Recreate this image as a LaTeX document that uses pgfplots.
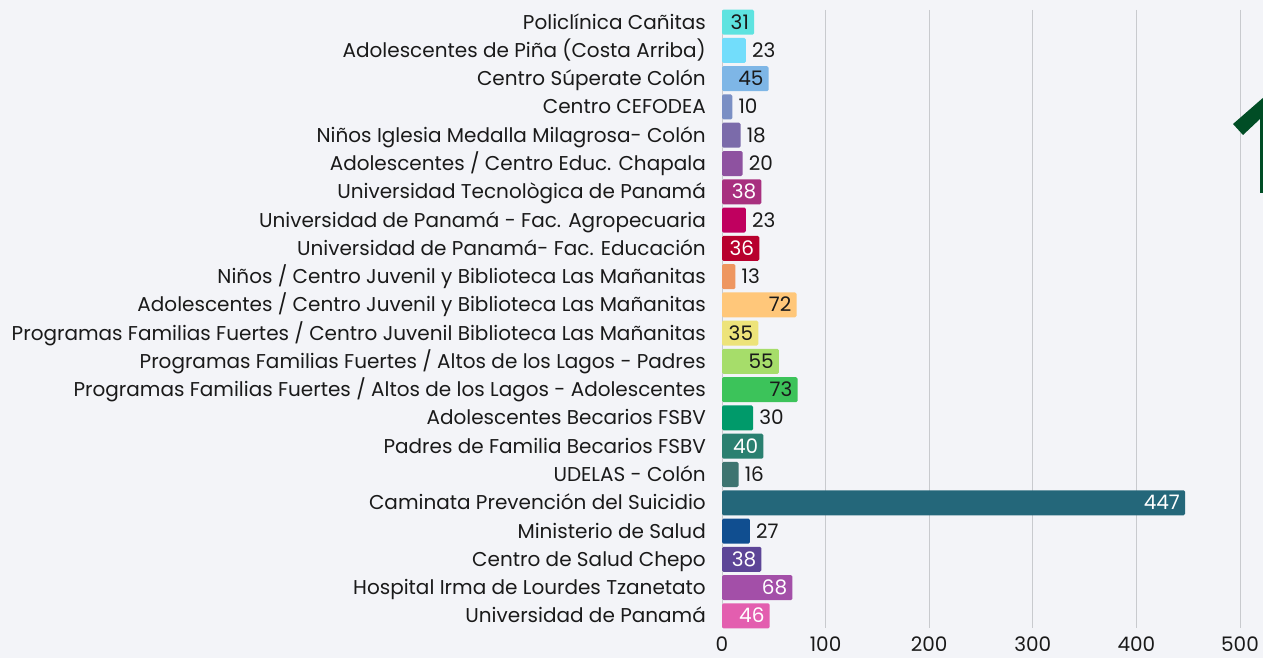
\documentclass[border=0pt]{standalone}
\usepackage{fontspec}
\setmainfont{Poppins}
\usepackage{pgfplots}
\pgfplotsset{compat=1.18}
\definecolor{bg}{HTML}{F3F4F8}
\definecolor{txt}{HTML}{1A1A1A}
\definecolor{grd}{HTML}{C8CACE}
\definecolor{c1}{HTML}{5EE3E0}
\definecolor{c2}{HTML}{72DDFB}
\definecolor{c3}{HTML}{7EB6E6}
\definecolor{c4}{HTML}{7A8FC4}
\definecolor{c5}{HTML}{7B6BAA}
\definecolor{c6}{HTML}{8E52A0}
\definecolor{c7}{HTML}{A8307F}
\definecolor{c8}{HTML}{C0005F}
\definecolor{c9}{HTML}{B8002E}
\definecolor{c10}{HTML}{EE9660}
\definecolor{c11}{HTML}{FFC77A}
\definecolor{c12}{HTML}{EDE37A}
\definecolor{c13}{HTML}{A6DD6A}
\definecolor{c14}{HTML}{3CC35A}
\definecolor{c15}{HTML}{009A6A}
\definecolor{c16}{HTML}{2A8070}
\definecolor{c17}{HTML}{3E7470}
\definecolor{c18}{HTML}{24677A}
\definecolor{c19}{HTML}{104E90}
\definecolor{c20}{HTML}{5D4597}
\definecolor{c21}{HTML}{A34FA8}
\definecolor{c22}{HTML}{E35EAF}
\definecolor{dgreen}{HTML}{004D25}
\pgfplotsset{
  inD/.style={fill=#1, draw=none, rounded corners=1.5pt, nodes near coords, every node near coord/.append style={anchor=base east, inner sep=0pt, xshift=-5pt, yshift=-7pt, text=txt}},
  inW/.style={fill=#1, draw=none, rounded corners=1.5pt, nodes near coords, every node near coord/.append style={anchor=base east, inner sep=0pt, xshift=-5pt, yshift=-7pt, text=white}},
  out/.style={fill=#1, draw=none, rounded corners=1.5pt, nodes near coords, every node near coord/.append style={anchor=base west, inner sep=0pt, xshift=6pt, yshift=-7pt, text=txt}},
}
\begin{document}
\begin{tikzpicture}[x=1pt,y=1pt]
\useasboundingbox (0,0) rectangle (1263,658);
\fill[bg] (0,0) rectangle (1263,658);
\begin{axis}[
  at={(722pt,30pt)}, anchor=south west,
  scale only axis, width=518pt, height=618pt,
  xbar, bar width=0.885, bar shift=0pt,
  xmin=0, xmax=500, ymin=-0.43, ymax=21.43, y dir=reverse,
  axis line style={draw=none},
  xtick={0,100,...,500},
  xmajorgrids, grid style={grd, line width=0.8pt},
  major tick length=0pt,
  ytick={0,...,21},
  yticklabels={Policlínica Cañitas,Adolescentes de Piña (Costa Arriba),Centro Súperate Colón,Centro CEFODEA,Niños Iglesia Medalla Milagrosa- Colón,Adolescentes / Centro Educ. Chapala,Universidad Tecnològica de Panamá,Universidad de Panamá - Fac. Agropecuaria,Universidad de Panamá- Fac. Educación,Niños / Centro Juvenil y Biblioteca Las Mañanitas,Adolescentes / Centro Juvenil y Biblioteca Las Mañanitas,Programas Familias Fuertes / Centro Juvenil Biblioteca Las Mañanitas,Programas Familias Fuertes / Altos de los Lagos - Padres,Programas Familias Fuertes / Altos de los Lagos - Adolescentes,Adolescentes Becarios FSBV,Padres de Familia Becarios FSBV,UDELAS - Colón,Caminata Prevención del Suicidio,Ministerio de Salud,Centro de Salud Chepo,Hospital Irma de Lourdes Tzanetato,Universidad de Panamá},
  yticklabel style={anchor=base east, inner sep=0pt, xshift=-16pt, yshift=-7pt, text=txt, font=\fontsize{20}{22}\selectfont},
  xticklabel style={anchor=base, inner sep=0pt, yshift=-23pt, text=txt, font=\fontsize{20}{22}\selectfont},
  /pgf/number format/assume math mode=true,
  nodes near coords style={font=\fontsize{20}{22}\selectfont},
  clip=false,
]
\addplot[inD=c1]  coordinates {(31,0)};
\addplot[out=c2]  coordinates {(23,1)};
\addplot[inD=c3]  coordinates {(45,2)};
\addplot[out=c4]  coordinates {(10,3)};
\addplot[out=c5]  coordinates {(18,4)};
\addplot[out=c6]  coordinates {(20,5)};
\addplot[inW=c7]  coordinates {(38,6)};
\addplot[out=c8]  coordinates {(23,7)};
\addplot[inW=c9]  coordinates {(36,8)};
\addplot[out=c10] coordinates {(13,9)};
\addplot[inD=c11] coordinates {(72,10)};
\addplot[inD=c12] coordinates {(35,11)};
\addplot[inD=c13] coordinates {(55,12)};
\addplot[inD=c14] coordinates {(73,13)};
\addplot[out=c15] coordinates {(30,14)};
\addplot[inW=c16] coordinates {(40,15)};
\addplot[out=c17] coordinates {(16,16)};
\addplot[inW=c18] coordinates {(447,17)};
\addplot[out=c19] coordinates {(27,18)};
\addplot[inW=c20] coordinates {(38,19)};
\addplot[inW=c21] coordinates {(68,20)};
\addplot[inW=c22] coordinates {(46,21)};
\end{axis}
\fill[dgreen] (1233,534) -- (1272,568) -- (1272,465) -- (1260,465) -- (1260,539) -- (1243,523) -- cycle;
\end{tikzpicture}
\end{document}
